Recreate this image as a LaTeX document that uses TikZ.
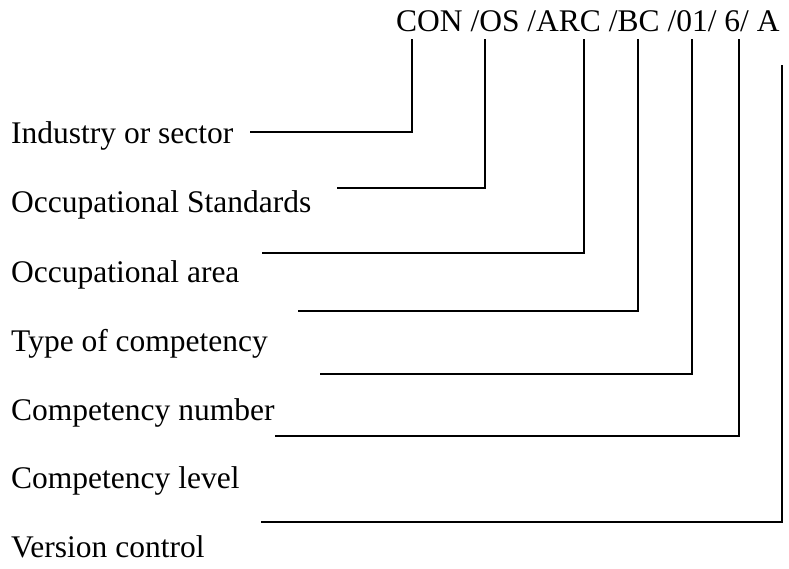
\documentclass[tikz,border=0pt]{standalone}
\usepackage{fontspec}
\setmainfont{Liberation Serif}
\begin{document}
\begin{tikzpicture}[x=1pt,y=-1pt,
  lbl/.style={anchor=base west, inner sep=0pt, font=\fontsize{31.5}{36}\selectfont},
  conn/.style={line width=1.6pt, line join=miter}]
\useasboundingbox (0,0) rectangle (789,568);
\node[lbl] (code) at (396,31) {CON /OS /ARC /BC /01/ 6/ A};
\node[lbl] (l1) at (11,143) {Industry or sector};
\node[lbl] (l2) at (11,212) {Occupational Standards};
\node[lbl] (l3) at (11,282) {Occupational area};
\node[lbl] (l4) at (11,351) {Type of competency};
\node[lbl] (l5) at (11,420) {Competency number};
\node[lbl] (l6) at (11,488) {Competency level};
\node[lbl] (l7) at (11,557) {Version control};
% top ends
\coordinate (t1) at (412,39);
\coordinate (t2) at (485,39);
\coordinate (t3) at (584,39);
\coordinate (t4) at (638,39);
\coordinate (t5) at (692,39);
\coordinate (t6) at (739,39);
\coordinate (t7) at (782,65);
% left ends
\coordinate (e1) at (250,132);
\coordinate (e2) at (337,188);
\coordinate (e3) at (262,253);
\coordinate (e4) at (298,311);
\coordinate (e5) at (320,374);
\coordinate (e6) at (275,436);
\coordinate (e7) at (261,522);
\foreach \i in {1,...,7} {\draw[conn] (t\i) |- (e\i);}
\end{tikzpicture}
\end{document}
